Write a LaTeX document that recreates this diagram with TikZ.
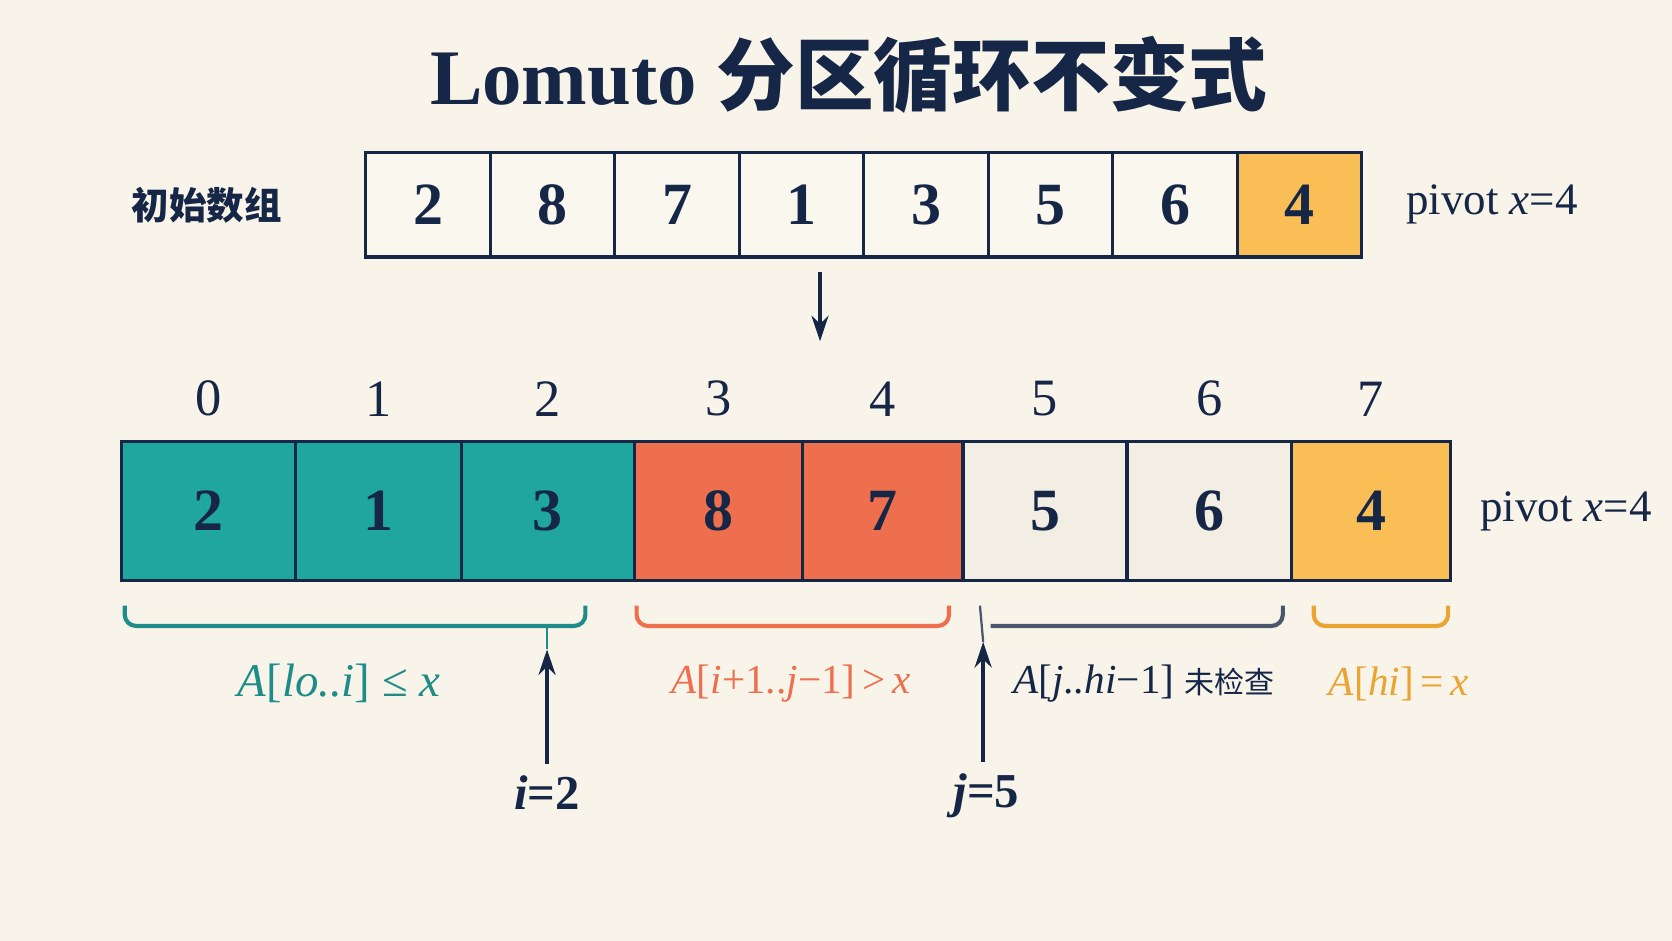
\documentclass[tikz,border=0pt]{standalone}
\usepackage{fontspec}
\setmainfont{Liberation Serif}
\newfontfamily\cjk{Noto Sans CJK SC}
\usetikzlibrary{positioning,arrows.meta}

\definecolor{navy}{RGB}{22,38,70}
\definecolor{bgcol}{RGB}{248,244,233}
\definecolor{paper}{RGB}{250,247,238}
\definecolor{tealfill}{RGB}{31,166,158}
\definecolor{tealdk}{RGB}{30,140,136}
\definecolor{coral}{RGB}{238,111,77}
\definecolor{pale}{RGB}{242,238,227}
\definecolor{ambfill}{RGB}{250,190,86}
\definecolor{ambline}{RGB}{235,163,50}
\definecolor{slate}{RGB}{74,86,110}

\tikzset{
		cell/.style={draw=navy, line width=0.9pt, inner sep=0pt, outer sep=0pt,
			text=navy, font=\fontsize{16pt}{18pt}\selectfont\bfseries},
		topcell/.style={cell, fill=paper, minimum width=11.675mm, minimum height=9.8mm},
		botcell/.style={cell, minimum height=13.05mm},
		idx/.style={inner sep=0pt, text=navy, font=\fontsize{14pt}{16pt}\selectfont},
		note/.style={inner sep=0pt, text=navy, font=\fontsize{12pt}{14pt}\selectfont},
		brk/.style={line width=1.1pt, rounded corners=3pt},
		brklabel/.style={inner sep=0pt, font=\fontsize{11pt}{14pt}\selectfont},
		ptr/.style={draw=navy, line width=0.9pt, -{Stealth[length=2.4mm,width=1.6mm]}},
		ptrlabel/.style={inner sep=0pt, text=navy, font=\fontsize{13pt}{15pt}\selectfont\bfseries},
		fontbf/.style={font=\fontsize{21pt}{24pt}\selectfont\bfseries}
	}

\begin{document}
\begin{tikzpicture}
				\fill[bgcol] (0,0) rectangle (15.68,8.82);
				\node[fontbf, text=navy] (title) at (7.96,8.12) {Lomuto {\cjk 分区循环不变式}};
				% initial array
				\node[topcell] (t0) at (4.014,6.90) {2};
				\node[topcell, right=0pt of t0] (t1) {8};
				\node[topcell, right=0pt of t1] (t2) {7};
				\node[topcell, right=0pt of t2] (t3) {1};
				\node[topcell, right=0pt of t3] (t4) {3};
				\node[topcell, right=0pt of t4] (t5) {5};
				\node[topcell, right=0pt of t5] (t6) {6};
				\node[topcell, fill=ambfill, right=0pt of t6] (t7) {4};
				\node[note, left=7.8mm of t0, font=\cjk\fontsize{10pt}{12pt}\selectfont\bfseries] (init) {初始数组};
				\node[note, right=4.1mm of t7] (piv1) {pivot \textit{x}=4};
				\coordinate (dtop) at (7.69,6.27);
				\coordinate (dbot) at (7.69,5.62);
				\draw[ptr] (dtop) -- (dbot);
				% partitioned array
				\node[botcell, fill=tealfill, minimum width=16.3mm] (b0) at (1.955,4.0275) {2};
				\node[botcell, fill=tealfill, minimum width=15.55mm, right=0pt of b0] (b1) {1};
				\node[botcell, fill=tealfill, minimum width=16.25mm, right=0pt of b1] (b2) {3};
				\node[botcell, fill=coral, minimum width=15.75mm, right=0pt of b2] (b3) {8};
				\node[botcell, fill=coral, minimum width=15.05mm, right=0pt of b3] (b4) {7};
				\node[botcell, fill=pale, minimum width=15.4mm, right=0pt of b4] (b5) {5};
				\node[botcell, fill=pale, minimum width=15.4mm, right=0pt of b5] (b6) {6};
				\node[botcell, fill=ambfill, minimum width=14.95mm, right=0pt of b6] (b7) {4};
				\node[note, right=2.7mm of b7] (piv2) {pivot \textit{x}=4};
				\node[idx, above=2.3mm of b0] (n0) {0};
				\node[idx, above=2.3mm of b1] (n1) {1};
				\node[idx, above=2.3mm of b2] (n2) {2};
				\node[idx, above=2.3mm of b3] (n3) {3};
				\node[idx, above=2.3mm of b4] (n4) {4};
				\node[idx, above=2.3mm of b5] (n5) {5};
				\node[idx, above=2.3mm of b6] (n6) {6};
				\node[idx, above=2.3mm of b7] (n7) {7};
				% brackets
				\draw[brk, draw=tealdk] (1.17,3.14) |- (5.49,2.95) -- (5.49,3.14);
				\draw[brk, draw=coral] (5.97,3.14) |- (8.90,2.95) -- (8.90,3.14);
				\draw[brk, draw=slate] (9.29,2.95) -- (12.03,2.95) -- (12.03,3.14);
				\draw[brk, draw=ambline] (12.32,3.14) |- (13.58,2.95) -- (13.58,3.14);
				\node[brklabel, text=tealdk, font=\fontsize{12.5pt}{14pt}\selectfont] (lo) at (3.18,2.41) {\textit{A}[\textit{lo..i}] ≤ \textit{x}};
				\node[brklabel, text=coral] (mid) at (7.42,2.41) {\textit{A}[\textit{i}+1..\textit{j}−1]\,>\,\textit{x}};
				\node[brklabel, text=navy] (rest) at (10.73,2.41) {\textit{A}[\textit{j..hi}−1] {\cjk\fontsize{8pt}{10pt}\selectfont 未检查}};
				\node[brklabel, text=ambline] (hi) at (13.12,2.41) {\textit{A}[\textit{hi}]\,=\,\textit{x}};
				% pointers
				\node[ptrlabel] (ilab) at (5.13,1.39) {\textit{i}=2};
				\node[ptrlabel] (jlab) at (9.25,1.36) {\textit{j}=5};
				\coordinate (itip) at (5.13,2.73);
				\coordinate (ibrk) at (5.13,2.95);
				\coordinate (jtip) at (9.22,2.80);
				\coordinate (jbrk) at (9.19,3.14);
				\draw[ptr, shorten <=1mm] (ilab) -- (itip);
				\draw[ptr, shorten <=1mm] (jlab.north -| jtip) -- (jtip);
				\draw[tealdk, line width=0.5pt] (itip) -- (ibrk);
				\draw[slate, line width=0.6pt] (jtip) -- (jbrk);
			\end{tikzpicture}
\end{document}
